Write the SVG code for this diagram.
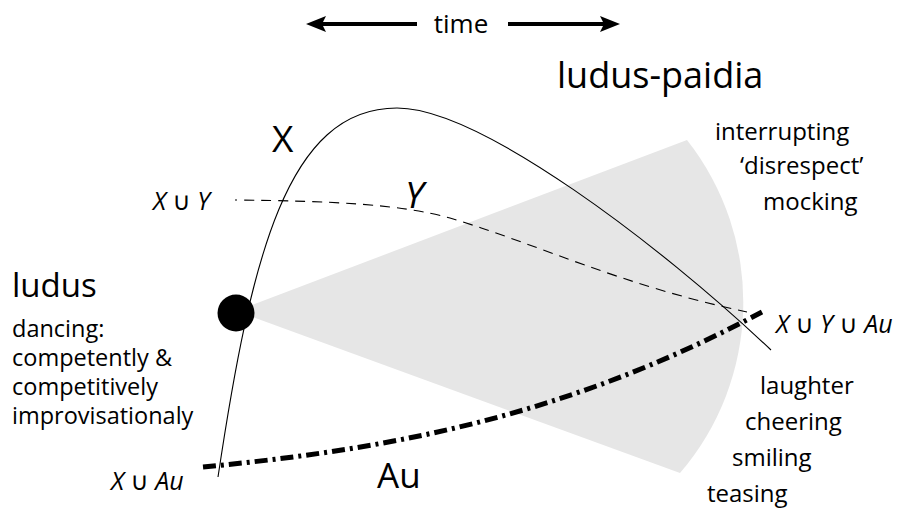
<svg xmlns="http://www.w3.org/2000/svg" width="910" height="510" viewBox="0 0 910 510">
<style>
.t{font-family:"Open Sans","DejaVu Sans",sans-serif;fill:#000}
.i{font-style:italic}
.x{fill:none;stroke:#000;stroke-width:1.1}
.y{fill:none;stroke:#000;stroke-width:1.1;stroke-dasharray:10 7}
.au{fill:none;stroke:#000;stroke-width:5;stroke-dasharray:13 5 3 5}
</style>
<rect width="910" height="510" fill="#fff"/>
<g id="wedge">
<path d="M236 311 L687 140 A262 262 0 0 1 680 473 Z" fill="#e6e6e6"/>
</g>
<g id="time">
<line x1="318" y1="24" x2="417" y2="24" stroke="#000" stroke-width="4"/>
<polygon points="306,24 326,16 322,24 326,32" fill="#000"/>
<line x1="508" y1="24" x2="608" y2="24" stroke="#000" stroke-width="4"/>
<polygon points="620,24 600,16 604,24 600,32" fill="#000"/>
<text class="t" x="461" y="33" font-size="26" text-anchor="middle">time</text>
</g>
<g id="connectors">
<path id="curveX" class="x" d="M218 477 C251 257 287 108 397 108 C480 108 660 245 771 350"/>
<path id="curveY" class="y" stroke-dashoffset="8" d="M235 200 C330 201 400 204 450 218 C540 245 620 285 747 312"/>
<path id="curveAu" class="au" d="M203 467 C380 450 560 420 762 312"/>
</g>
<g id="ludus-node">
<circle cx="236" cy="313" r="18.5" fill="#000"/>
<text class="t" x="12" y="297" font-size="33">ludus</text>
<text class="t" x="12" y="337" font-size="23.5">dancing:</text>
<text class="t" x="12" y="366" font-size="23.5">competently &amp;</text>
<text class="t" x="12" y="395" font-size="23.5">competitively</text>
<text class="t" x="12" y="424" font-size="23.5">improvisationaly</text>
</g>
<g id="ludus-paidia">
<text class="t" x="557" y="88" font-size="36">ludus-paidia</text>
<text class="t" x="715" y="140" font-size="24">interrupting</text>
<text class="t" x="740" y="174" font-size="24">‘disrespect’</text>
<text class="t" x="763" y="210" font-size="24">mocking</text>
<text class="t" x="760" y="394" font-size="24">laughter</text>
<text class="t" x="745" y="430" font-size="24">cheering</text>
<text class="t" x="732" y="466" font-size="24">smiling</text>
<text class="t" x="707" y="502" font-size="24">teasing</text>
</g>
<g id="labels">
<text class="t" x="272" y="152" font-size="37">X</text>
<text class="t i" x="405" y="208" font-size="37">Y</text>
<text class="t" x="153" y="210" font-size="25"><tspan class="i">X</tspan> ∪ <tspan class="i">Y</tspan></text>
<text class="t" x="776" y="333" font-size="25"><tspan class="i">X</tspan> ∪ <tspan class="i">Y</tspan> ∪ <tspan class="i">Au</tspan></text>
<text class="t" x="111" y="490" font-size="25"><tspan class="i">X</tspan> ∪ <tspan class="i">Au</tspan></text>
<text class="t" x="377" y="488" font-size="35">Au</text>
</g>
</svg>
